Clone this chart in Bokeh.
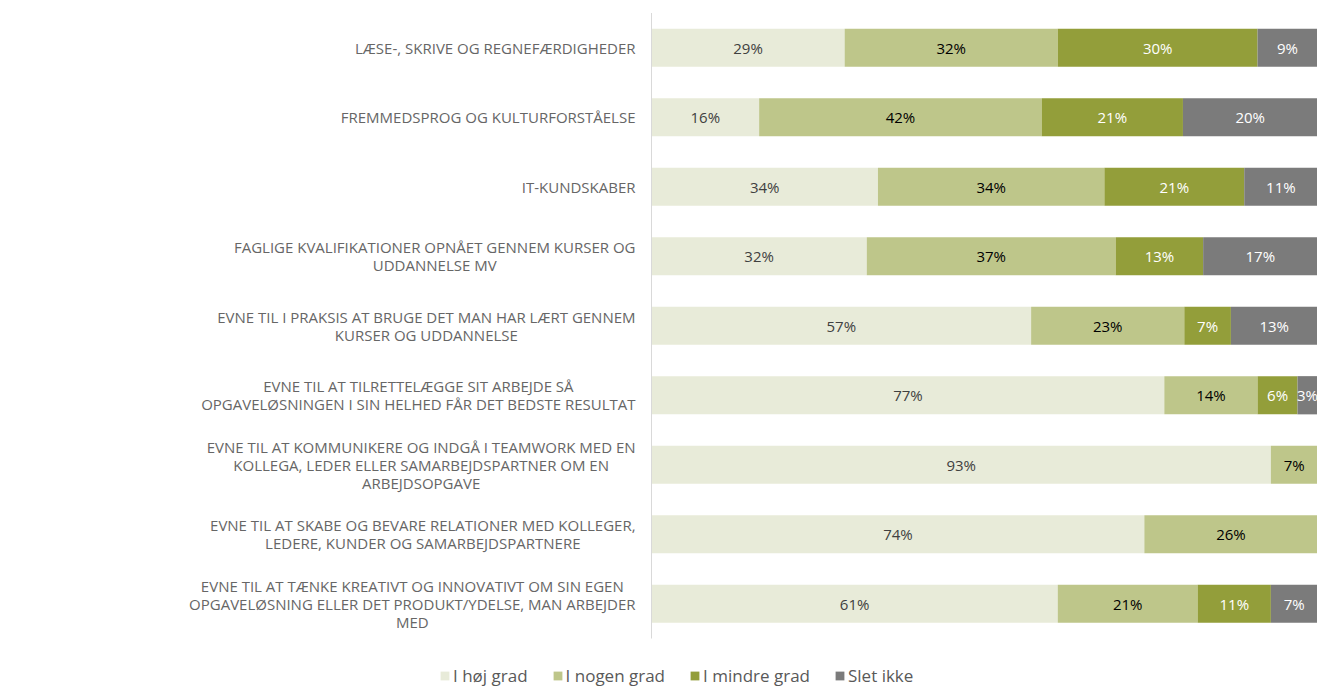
import glob
import subprocess

from bokeh.core.properties import value
from bokeh.embed import file_html
from bokeh.models import ColumnDataSource, Range1d
from bokeh.plotting import figure
from bokeh.resources import INLINE

# ---------------- data ----------------
categories = [
    "LÆSE-, SKRIVE OG REGNEFÆRDIGHEDER",
    "FREMMEDSPROG OG KULTURFORSTÅELSE",
    "IT-KUNDSKABER",
    "FAGLIGE KVALIFIKATIONER OPNÅET GENNEM KURSER OG\nUDDANNELSE MV",
    "EVNE TIL I PRAKSIS AT BRUGE DET MAN HAR LÆRT GENNEM\nKURSER OG UDDANNELSE",
    "EVNE TIL AT TILRETTELÆGGE SIT ARBEJDE SÅ\nOPGAVELØSNINGEN I SIN HELHED FÅR DET BEDSTE RESULTAT",
    "EVNE TIL AT KOMMUNIKERE OG INDGÅ I TEAMWORK MED EN\nKOLLEGA, LEDER ELLER SAMARBEJDSPARTNER OM EN\nARBEJDSOPGAVE",
    "EVNE TIL AT SKABE OG BEVARE RELATIONER MED KOLLEGER,\nLEDERE, KUNDER OG SAMARBEJDSPARTNERE",
    "EVNE TIL AT TÆNKE KREATIVT OG INNOVATIVT OM SIN EGEN\nOPGAVELØSNING ELLER DET PRODUKT/YDELSE, MAN ARBEJDER\nMED",
]
series_names = ["I høj grad", "I nogen grad", "I mindre grad", "Slet ikke"]
hoej_grad = [29, 16, 34, 32, 57, 77, 93, 74, 61]
nogen_grad = [32, 42, 34, 37, 23, 14, 7, 26, 21]
mindre_grad = [30, 21, 21, 13, 7, 6, 0, 0, 11]
slet_ikke = [9, 20, 11, 17, 13, 3, 0, 0, 7]

series_values = [hoej_grad, nogen_grad, mindre_grad, slet_ikke]
colors = ["#E8EBD9", "#BEC68A", "#939E3A", "#7B7B7B"]
label_colors = ["#404040", "#000000", "#FFFFFF", "#FFFFFF"]

# ---------------- geometry ----------------
W, H = 1317, 687
PLOT_LEFT_PX = 651          # where the bars start
BAR_PX = W - PLOT_LEFT_PX   # width of 100 %
ROW_PX = 69.5
TOP_PX = 12.5
px_x = 100.0 / BAR_PX       # data units per pixel (x)
px_y = 1.0 / ROW_PX         # data units per pixel (y)

y_top = (0 - TOP_PX) / ROW_PX - 0.5
y_bot = (H - TOP_PX) / ROW_PX - 0.5
x_lo = -PLOT_LEFT_PX * px_x

p = figure(
    width=W, height=H,
    x_range=Range1d(x_lo, 100),
    y_range=Range1d(y_bot, y_top),
    output_backend="svg", toolbar_location=None,
    x_axis_location=None, y_axis_location=None,
    min_border=0, outline_line_color=None,
)
p.grid.visible = False
p.background_fill_color = "white"

# normalised (100 % stacked) columns
n = len(categories)
rows = list(range(n))
data = {"y": rows}
keys = ["s0", "s1", "s2", "s3"]
for k, vals in zip(keys, series_values):
    data[k] = [
        v / sum(col[i] for col in series_values) * 100 for i, v in enumerate(vals)
    ]
source = ColumnDataSource(data)

p.hbar_stack(keys, y="y", height=0.55, color=colors, line_color=None,
             source=source, legend_label=series_names)

# axis line
p.segment(x0=[0], y0=[-0.5], x1=[0], y1=[n - 0.5], line_color="#D9D9D9", line_width=1)

# value labels inside bars
for si, k in enumerate(keys):
    xs, ys, ts = [], [], []
    for i in rows:
        raw = series_values[si][i]
        if raw <= 0:
            continue
        left = sum(data[keys[j]][i] for j in range(si))
        xs.append(left + data[k][i] / 2)
        ys.append(i)
        ts.append(f"{raw}%")
    p.text(x=xs, y=ys, text=ts, text_align="center", text_baseline="middle",
           text_font=value("Open Sans"), text_font_size="15px",
           text_color=label_colors[si])

# ---------------- category labels ----------------
FONT_SIZE = 15


def find_font():
    try:
        out = subprocess.run(["fc-match", "-f", "%{file}", "Open Sans"],
                             capture_output=True, text=True, timeout=5).stdout.strip()
        if out:
            return out
    except Exception:
        pass
    c = glob.glob("/usr/share/fonts/**/OpenSans*.ttf", recursive=True)
    return c[0] if c else None


measure = None
try:
    from PIL import ImageFont
    fp = find_font()
    if fp:
        _f = ImageFont.truetype(fp, FONT_SIZE)
        measure = lambda s: _f.getlength(s)
except Exception:
    measure = None
if measure is None:
    measure = lambda s: len(s) * FONT_SIZE * 0.66

RIGHT_EDGE_PX = 635
LINE_PX = 18
lx, ly, lt = [], [], []
for i, cat in enumerate(categories):
    lines = cat.split("\n")
    wmax = max(measure(s) for s in lines)
    cx_px = RIGHT_EDGE_PX - wmax / 2
    for j, s in enumerate(lines):
        off = (j - (len(lines) - 1) / 2) * LINE_PX
        lx.append((cx_px - PLOT_LEFT_PX) * px_x)
        ly.append(i + off * px_y)
        lt.append(s)
p.text(x=lx, y=ly, text=lt, text_align="center", text_baseline="middle",
       text_font=value("Open Sans"), text_font_size=f"{FONT_SIZE}px",
       text_color="#666666")

# ---------------- legend ----------------
lg = p.legend[0]
lg.orientation = "horizontal"
lg.location = (439, 0)
lg.padding = 0
lg.margin = 0
lg.spacing = 24
lg.glyph_width = 11
lg.glyph_height = 11
lg.label_standoff = 3
lg.label_text_font = "Open Sans"
lg.label_text_font_size = "17px"
lg.label_text_color = "#595959"
lg.border_line_color = None
lg.background_fill_alpha = 0

open("out.html", "w").write(file_html(p, INLINE))
